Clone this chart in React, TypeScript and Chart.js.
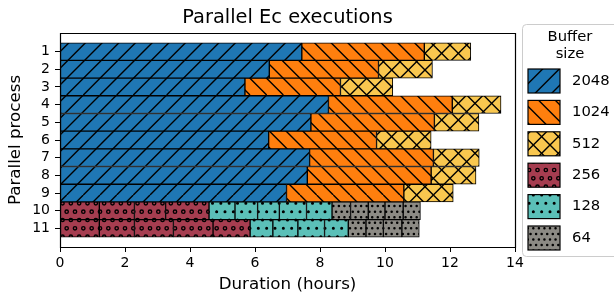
import React, { useEffect, useRef } from 'react';
import { Chart, registerables } from 'chart.js';

Chart.register(...registerables);

const chartTitle = 'Parallel Ec executions';
const xAxisTitle = 'Duration (hours)';
const yAxisTitle = 'Parallel process';
const legendTitle = ['Buffer', 'size'];

const processLabels = ['1', '2', '3', '4', '5', '6', '7', '8', '9', '10', '11'];
const bufferSizes = ['2048', '1024', '512', '256', '128', '64'];
const bufferColors = ['#1f77b4', '#ff7f0e', '#f9c74f', '#a63d50', '#5bc0b8', '#8c8a84'];
const bufferHatches = ['/', '\\', 'x', 'oo', '..', '...'];
const xTickValues = [0, 2, 4, 6, 8, 10, 12, 14];

// durations (hours) of each run, per process, for each buffer size
const runs2048 = [[7.44], [6.44], [5.69], [8.26], [7.72], [6.42], [7.68], [7.61], [6.97], [], []];
const runs1024 = [[3.77], [3.36], [2.94], [3.81], [3.80], [3.32], [3.81], [3.81], [3.61], [], []];
const runs512 = [[1.43], [1.66], [1.61], [1.50], [1.37], [1.68], [1.41], [1.38], [1.52], [], []];
const runs256 = [[], [], [], [], [], [], [], [], [], [1.21, 1.08, 0.96, 1.335], [1.21, 1.08, 1.20, 1.22, 1.14]];
const runs128 = [[], [], [], [], [], [], [], [], [], [0.80, 0.695, 0.67, 0.835, 0.785], [0.70, 0.77, 0.82, 0.73]];
const runs64 = [[], [], [], [], [], [], [], [], [], [0.57, 0.545, 0.515, 0.56, 0.53], [0.545, 0.535, 0.57, 0.535]];

const FONT = "'DejaVu Sans', sans-serif";

function makeHatch(ctx: CanvasRenderingContext2D, color: string, hatch: string) {
  const S = 100;
  const c = document.createElement('canvas');
  c.width = S;
  c.height = S;
  const g = c.getContext('2d')!;
  g.fillStyle = color;
  g.fillRect(0, 0, S, S);
  g.strokeStyle = '#000';
  g.fillStyle = '#000';
  g.lineWidth = 1.4;
  const count = (ch: string) => hatch.split(ch).length - 1;
  const density = 6;
  const ne = (count('/') + count('x')) * density;
  const nw = (count('\\') + count('x')) * density;
  if (ne) {
    const d = S / ne;
    g.beginPath();
    for (let k = -ne; k <= ne; k++) {
      g.moveTo(k * d, S);
      g.lineTo(k * d + S, 0);
    }
    g.stroke();
  }
  if (nw) {
    const d = S / nw;
    g.beginPath();
    for (let k = -nw; k <= nw; k++) {
      g.moveTo(k * d, 0);
      g.lineTo(k * d + S, S);
    }
    g.stroke();
  }
  const circles = (n: number, size: number, filled: boolean) => {
    const off = S / n;
    const r = off * size;
    for (let row = 0; row <= n; row++) {
      const y = S - row * off;
      const cols: number[] = [];
      if (row % 2 === 0) for (let i = 0; i <= n; i++) cols.push(i * off);
      else for (let i = 0; i < n; i++) cols.push(off / 2 + i * off);
      for (const x of cols) {
        g.beginPath();
        g.arc(x, y, r, 0, Math.PI * 2);
        if (filled) g.fill();
        g.stroke();
      }
    }
  };
  const no = count('o') * density;
  if (no) circles(no, 0.2, false);
  const nd = count('.') * density;
  if (nd) circles(nd, 0.1, true);
  const p = ctx.createPattern(c, 'repeat')!;
  try {
    p.setTransform(new DOMMatrix().translate(0, -5));
  } catch (e) {}
  return p;
}

export default function App() {
  const ref = useRef<HTMLCanvasElement>(null);

  useEffect(() => {
    const canvas = ref.current!;
    const ctx = canvas.getContext('2d')!;
    const patterns = bufferSizes.map((_, i) => makeHatch(ctx, bufferColors[i], bufferHatches[i]));

    const runs = [runs2048, runs1024, runs512, runs256, runs128, runs64];
    const points: { x: number[]; y: number }[][] = runs.map(() => []);
    processLabels.forEach((_, pi) => {
      let t = 0;
      runs.forEach((r, bi) => {
        r[pi].forEach((d) => {
          points[bi].push({ x: [t, t + d], y: pi + 1 });
          t += d;
        });
      });
    });

    const datasets = bufferSizes.map((b, bi) => ({
      label: b,
      data: points[bi] as any,
      backgroundColor: patterns[bi] as any,
      borderColor: '#000',
      borderWidth: 1,
      borderSkipped: false as any,
      grouped: false,
      barPercentage: 1,
      categoryPercentage: 1,
    }));

    const decor = {
      id: 'decor',
      afterDraw(chart: any) {
        const c = chart.ctx as CanvasRenderingContext2D;
        const a = chart.chartArea;
        c.save();
        // frame
        const L = Math.round(a.left) + 0.5, T = Math.round(a.top) + 0.5, R = Math.round(a.right) + 0.5, B = Math.round(a.bottom) + 0.5;
        c.beginPath();
        c.moveTo(L, T);
        c.lineTo(R, T);
        c.lineTo(R, B);
        c.lineTo(L, B);
        c.closePath();
        c.strokeStyle = '#000000';
        c.lineWidth = 1.2;
        c.stroke();
        // title
        c.fillStyle = '#000';
        c.font = `19.4px ${FONT}`;
        c.textAlign = 'center';
        c.textBaseline = 'middle';
        c.fillText(chartTitle, (a.left + a.right) / 2, 18);
        // legend
        const lx = 522.5, ly = 24.5, lw = 96, lh = 232, rr = 4;
        c.beginPath();
        c.moveTo(lx + rr, ly);
        c.lineTo(lx + lw - rr, ly);
        c.arcTo(lx + lw, ly, lx + lw, ly + rr, rr);
        c.lineTo(lx + lw, ly + lh - rr);
        c.arcTo(lx + lw, ly + lh, lx + lw - rr, ly + lh, rr);
        c.lineTo(lx + rr, ly + lh);
        c.arcTo(lx, ly + lh, lx, ly + lh - rr, rr);
        c.lineTo(lx, ly + rr);
        c.arcTo(lx, ly, lx + rr, ly, rr);
        c.closePath();
        c.fillStyle = 'rgba(255,255,255,0.8)';
        c.fill();
        c.strokeStyle = '#cccccc';
        c.lineWidth = 1;
        c.stroke();
        c.fillStyle = '#000';
        c.font = `14.8px ${FONT}`;
        c.textAlign = 'center';
        legendTitle.forEach((t, i) => c.fillText(t, 570, 37 + i * 17));
        c.textAlign = 'left';
        bufferSizes.forEach((b, i) => {
          const cy = 81 + i * 31.4;
          c.fillStyle = patterns[i];
          c.fillRect(528, cy - 12, 32, 24);
          c.strokeStyle = '#000';
          c.lineWidth = 1.2;
          c.strokeRect(528, cy - 12, 32, 24);
          c.fillStyle = '#000';
          c.fillText(b, 572, cy);
        });
        c.restore();
      },
    };

    const chart = new Chart(canvas, {
      type: 'bar',
      data: { datasets },
      options: {
        indexAxis: 'y',
        animation: false,
        responsive: false,
        events: [],
        layout: { padding: { top: 33, right: 99, left: 0, bottom: 0 } },
        plugins: { legend: { display: false }, tooltip: { enabled: false }, title: { display: false } },
        scales: {
          x: {
            type: 'linear',
            min: 0,
            max: 14,
            offset: false,
            afterBuildTicks: (s: any) => {
              s.ticks = xTickValues.map((v) => ({ value: v }));
            },
            ticks: { color: '#000', font: { family: FONT, size: 14 }, padding: 3, maxRotation: 0 },
            grid: { drawOnChartArea: false, drawTicks: true, tickLength: 5, color: '#000', lineWidth: 1, offset: false },
            border: { display: false },
            title: { display: true, text: xAxisTitle, color: '#000', font: { family: FONT, size: 16.7 }, padding: { top: 0, bottom: 0 } },
            afterFit: (s: any) => {
              s.height = 48;
            },
          },
          y: {
            type: 'linear',
            reverse: true,
            min: -0.05,
            max: 12.05,
            offset: false,
            afterBuildTicks: (s: any) => {
              s.ticks = processLabels.map((_, i) => ({ value: i + 1 }));
            },
            ticks: {
              color: '#000',
              font: { family: FONT, size: 14 },
              padding: 5,
              autoSkip: false,
              callback: (v: any) => processLabels[Math.round(v) - 1] ?? '',
            },
            grid: { drawOnChartArea: false, drawTicks: true, tickLength: 5, color: '#000', lineWidth: 1, offset: false },
            border: { display: false },
            title: { display: true, text: yAxisTitle, color: '#000', font: { family: FONT, size: 16.7 }, padding: { top: 6, bottom: 0 } },
            afterFit: (s: any) => {
              s.width = 60;
            },
          },
        },
      },
      plugins: [decor],
    });
    return () => chart.destroy();
  }, []);

  return (
    <div style={{ position: 'fixed', left: 0, top: 0, width: 614, height: 295, background: '#fff' }}>
      <canvas ref={ref} width={614} height={295} style={{ display: 'block', width: 614, height: 295 }} />
    </div>
  );
}
